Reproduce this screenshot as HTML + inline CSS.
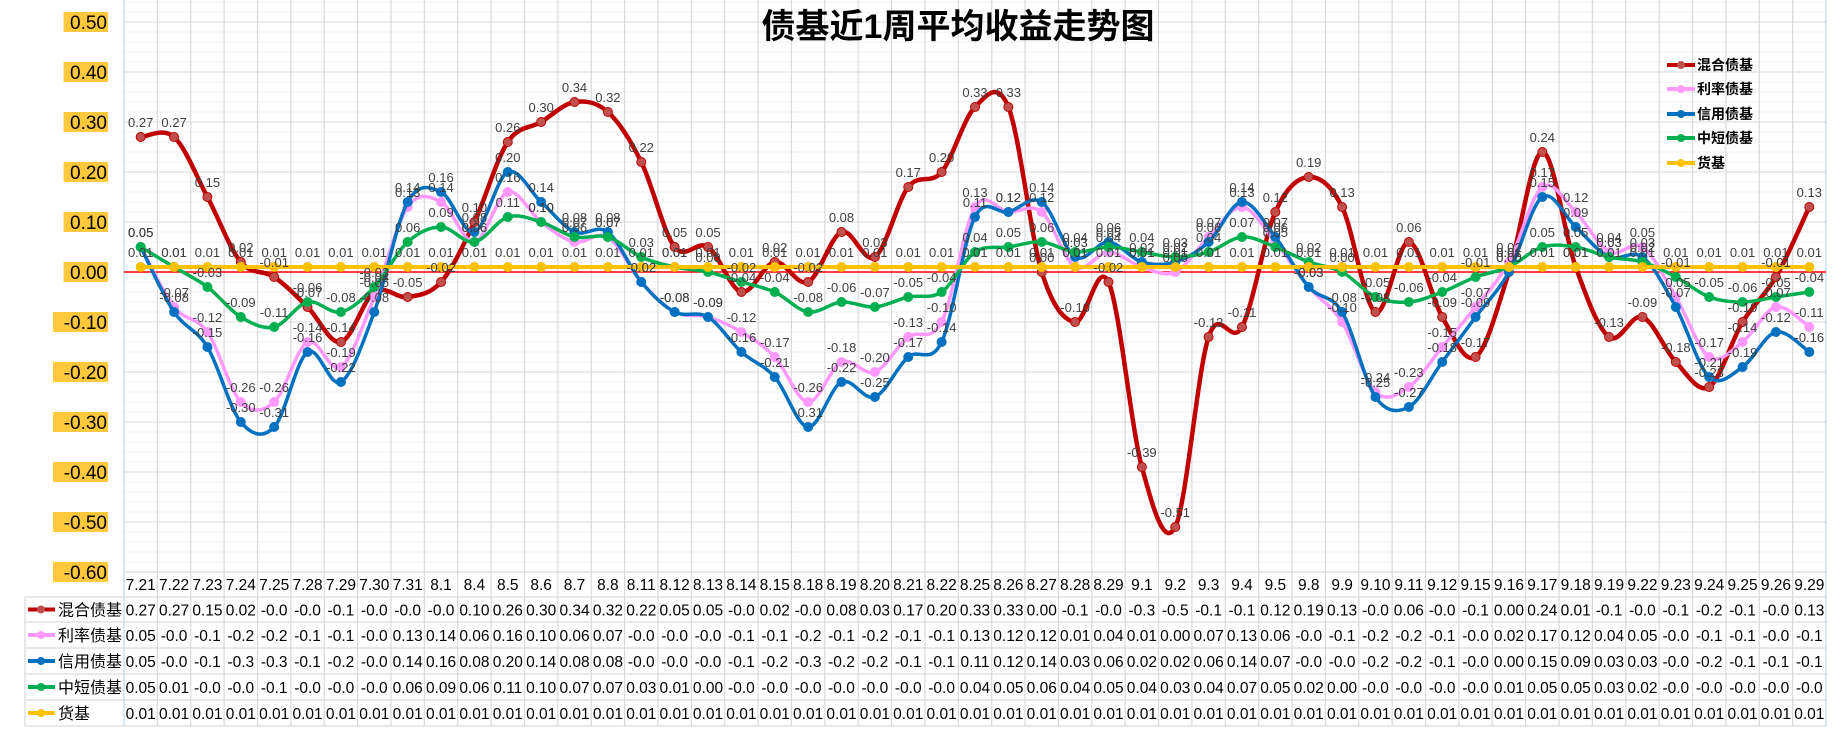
<!DOCTYPE html>
<html><head><meta charset="utf-8">
<style>
html,body{margin:0;padding:0;background:#fff;}
body{width:1842px;height:738px;overflow:hidden;font-family:"Liberation Sans","Noto Sans CJK SC",sans-serif;}
svg text{font-family:"Liberation Sans","Noto Sans CJK SC",sans-serif;}
</style></head>
<body>
<svg id="chart" width="1842" height="738" viewBox="0 0 1842 738" xmlns="http://www.w3.org/2000/svg">
<g id="grid"></g>
<g id="yaxis"></g>
<g id="series"></g>
<g id="labels"></g>
<g id="table"></g>
<text x="958" y="38" text-anchor="middle" font-size="34" font-weight="bold" fill="#000">债基近1周平均收益走势图</text>
<g id="legend"></g>
</svg>
<script>
const categories = ["7.21","7.22","7.23","7.24","7.25","7.28","7.29","7.30","7.31","8.1","8.4","8.5","8.6","8.7","8.8","8.11","8.12","8.13","8.14","8.15","8.18","8.19","8.20","8.21","8.22","8.25","8.26","8.27","8.28","8.29","9.1","9.2","9.3","9.4","9.5","9.8","9.9","9.10","9.11","9.12","9.15","9.16","9.17","9.18","9.19","9.22","9.23","9.24","9.25","9.26","9.29"];
const mixedValues = [0.27,0.27,0.15,0.02,-0.01,-0.07,-0.14,-0.04,-0.05,-0.02,0.10,0.26,0.30,0.34,0.32,0.22,0.05,0.05,-0.04,0.02,-0.02,0.08,0.03,0.17,0.20,0.33,0.33,0.00,-0.10,-0.02,-0.39,-0.51,-0.13,-0.11,0.12,0.19,0.13,-0.08,0.06,-0.09,-0.17,0.00,0.24,0.01,-0.13,-0.09,-0.18,-0.23,-0.10,-0.01,0.13];
const rateValues = [0.05,-0.07,-0.12,-0.26,-0.26,-0.14,-0.19,-0.05,0.13,0.14,0.06,0.16,0.10,0.06,0.07,-0.02,-0.08,-0.09,-0.12,-0.17,-0.26,-0.18,-0.20,-0.13,-0.10,0.13,0.12,0.12,0.01,0.04,0.01,0.00,0.07,0.13,0.06,-0.03,-0.10,-0.24,-0.23,-0.15,-0.07,0.02,0.17,0.12,0.04,0.05,-0.05,-0.17,-0.14,-0.07,-0.11];
const creditValues = [0.05,-0.08,-0.15,-0.30,-0.31,-0.16,-0.22,-0.08,0.14,0.16,0.08,0.20,0.14,0.08,0.08,-0.02,-0.08,-0.09,-0.16,-0.21,-0.31,-0.22,-0.25,-0.17,-0.14,0.11,0.12,0.14,0.03,0.06,0.02,0.02,0.06,0.14,0.07,-0.03,-0.08,-0.25,-0.27,-0.18,-0.09,0.00,0.15,0.09,0.03,0.03,-0.07,-0.21,-0.19,-0.12,-0.16];
const shortValues = [0.05,0.01,-0.03,-0.09,-0.11,-0.06,-0.08,-0.03,0.06,0.09,0.06,0.11,0.10,0.07,0.07,0.03,0.01,0.00,-0.02,-0.04,-0.08,-0.06,-0.07,-0.05,-0.04,0.04,0.05,0.06,0.04,0.05,0.04,0.03,0.04,0.07,0.05,0.02,0.00,-0.05,-0.06,-0.04,-0.01,0.01,0.05,0.05,0.03,0.02,-0.01,-0.05,-0.06,-0.05,-0.04];
const moneyValues = [0.01,0.01,0.01,0.01,0.01,0.01,0.01,0.01,0.01,0.01,0.01,0.01,0.01,0.01,0.01,0.01,0.01,0.01,0.01,0.01,0.01,0.01,0.01,0.01,0.01,0.01,0.01,0.01,0.01,0.01,0.01,0.01,0.01,0.01,0.01,0.01,0.01,0.01,0.01,0.01,0.01,0.01,0.01,0.01,0.01,0.01,0.01,0.01,0.01,0.01,0.01];
const seriesNames = ["混合债基","利率债基","信用债基","中短债基","货基"];
const yTicks = [0.5,0.4,0.3,0.2,0.1,0,-0.1,-0.2,-0.3,-0.4,-0.5,-0.6];

const NS="http://www.w3.org/2000/svg";
const X0=124, X1=1826, Y0=272, PXU=500; // px per 1.0
const CW=(X1-X0)/categories.length;
function xPos(i){return X0+(i+0.5)*CW;}
function yPos(v){return Y0-v*PXU;}
function mk(tag,attrs,parent){const e=document.createElementNS(NS,tag);for(const k in attrs)e.setAttribute(k,attrs[k]);parent.appendChild(e);return e;}

const grid=document.getElementById('grid');
for(let k=-30;k<=27;k++){const v=k*0.02;const y=yPos(v);
  const major=(k%5===0);
  const l=mk('line',{x1:X0,x2:X1,y1:y,y2:y,stroke:major?'#d9d9d9':'#f0f0f0','stroke-width':1},grid);
  
  }
for(let i=0;i<=categories.length;i++){const x=X0+i*CW;
  const l=mk('line',{x1:x,x2:x,y1:0,y2:726,stroke:(i===0||i===categories.length)?'#bdd7ee':'#d9d9d9','stroke-width':1.2},grid);
  
  }
const zl=mk('line',{x1:X0,x2:X1,y1:Y0,y2:Y0,stroke:'#ff0000','stroke-width':1.5},grid);



const yax=document.getElementById('yaxis');
yTicks.forEach(v=>{const y=yPos(v);const s=v.toFixed(2);const w=s.length*10.6+2;
  const r=mk('rect',{x:108-w,y:y-10,width:w,height:20,fill:'#ffc83d'},yax);
  
  
  const t=mk('text',{x:107,y:y+7,'text-anchor':'end','font-size':19,fill:'#000'},yax);
  t.textContent=s;
  
  });

const allSeries=[
 {vals:mixedValues,color:'#c00000',w:4.5,mk:'#c0504d',name:'mixed-bond-line'},
 {vals:rateValues,color:'#ff99ff',w:3.5,mk:'#ff99ff',name:'rate-bond-line'},
 {vals:creditValues,color:'#0070c0',w:3.5,mk:'#0070c0',name:'credit-bond-line'},
 {vals:shortValues,color:'#00b050',w:3.5,mk:'#00b050',name:'short-bond-line'},
 {vals:moneyValues,color:'#ffc000',w:4,mk:'#ffc000',name:'money-fund-line'}];
const sg=document.getElementById('series'), lg=document.getElementById('labels');
function smooth(pts){let d=`M${pts[0][0]},${pts[0][1]}`;
  for(let i=0;i<pts.length-1;i++){const p0=pts[Math.max(0,i-1)],p1=pts[i],p2=pts[i+1],p3=pts[Math.min(pts.length-1,i+2)];
    const c1=[p1[0]+(p2[0]-p0[0])/6,p1[1]+(p2[1]-p0[1])/6],c2=[p2[0]-(p3[0]-p1[0])/6,p2[1]-(p3[1]-p1[1])/6];
    d+=` C${c1[0]},${c1[1]} ${c2[0]},${c2[1]} ${p2[0]},${p2[1]}`;}
  return d;}
allSeries.forEach(s=>{
  const pts=s.vals.map((v,i)=>[xPos(i),yPos(v)]);
  const p=mk('path',{d:smooth(pts),fill:'none',stroke:s.color,'stroke-width':s.w,'stroke-linejoin':'round'},sg);
  
  
  pts.forEach((q,i)=>{const c=mk('circle',{cx:q[0],cy:q[1],r:4.5,fill:s.mk,stroke:s.color,'stroke-width':1},sg);
    
    
    const t=mk('text',{x:q[0],y:q[1]-10,'text-anchor':'middle','font-size':13,fill:'#404040'},lg);
    t.textContent=s.vals[i].toFixed(2);
    
    });
});

// legend
const leg=document.getElementById('legend');
const legY=[65,89,114,138,163];
allSeries.forEach((s,i)=>{
  const l=mk('line',{x1:1667,x2:1695,y1:legY[i],y2:legY[i],stroke:s.color,'stroke-width':4},leg);
  
  
  const c=mk('circle',{cx:1681,cy:legY[i],r:4,fill:s.mk},leg);
  
  
  const t=mk('text',{x:1697,y:legY[i]+5,'font-size':14,'font-weight':'bold',fill:'#000'},leg);
  t.textContent=seriesNames[i];
  
  });

// data table
const tb=document.getElementById('table');
const rowTop=[572,597,622,648,674,700,726];
rowTop.forEach((y,i)=>{const l=mk('line',{x1:i===0?X0:25,x2:X1,y1:y,y2:y,stroke:'#d9d9d9','stroke-width':1.2},tb);
  
  });
const lb=mk('line',{x1:25,x2:25,y1:597,y2:726,stroke:'#d9d9d9','stroke-width':1.2},tb);


categories.forEach((c,i)=>{const t=mk('text',{x:xPos(i),y:590,'text-anchor':'middle','font-size':15.5,fill:'#000'},tb);
  t.textContent=c;
  
  });
function fmt(v){return v.toFixed(2).slice(0,4);}
allSeries.forEach((s,r)=>{const cy=(rowTop[r+1]+rowTop[r+2])/2;
  const l=mk('line',{x1:28,x2:55,y1:cy,y2:cy,stroke:s.color,'stroke-width':4},tb);
  
  
  const c=mk('circle',{cx:41,cy:cy,r:4,fill:s.mk},tb);
  
  
  const n=mk('text',{x:58,y:cy+6,'font-size':16,fill:'#000'},tb);
  n.textContent=seriesNames[r];
  
  
  s.vals.forEach((v,i)=>{const t=mk('text',{x:xPos(i),y:cy+6,'text-anchor':'middle','font-size':15.5,fill:'#000'},tb);
    t.textContent=fmt(v);
    
    });
});
</script>
</body></html>
